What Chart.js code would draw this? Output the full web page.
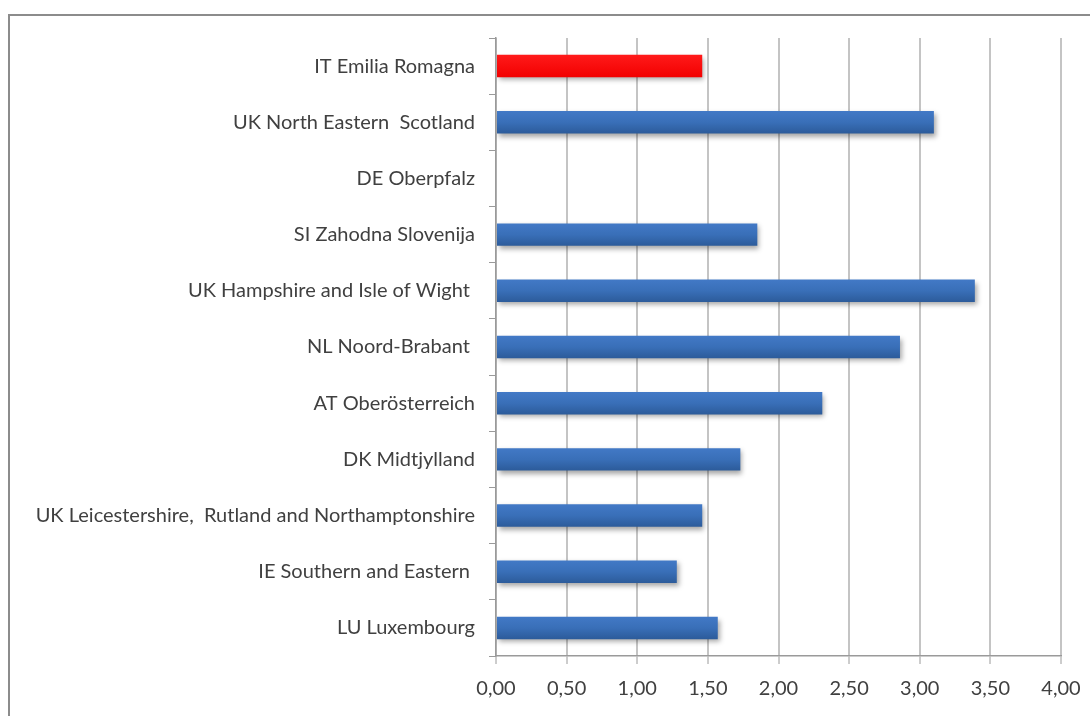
<!DOCTYPE html>
<html>
<head>
<meta charset="utf-8">
<script src="https://cdn.jsdelivr.net/npm/chart.js@4/dist/chart.umd.min.js"></script>
<style>
  html, body { margin: 0; padding: 0; background: #fff; overflow: hidden; }
  #wrap { position: relative; width: 1090px; height: 716px; }
  #frame { position: absolute; left: 8px; top: 14px; width: 1100px; height: 720px;
           border-left: 2px solid #8c8c8c; border-top: 2px solid #8c8c8c; box-sizing: border-box; }
  canvas { position: absolute; left: 0; top: 0; }
</style>
</head>
<body>
<div id="wrap">
  <div id="frame"></div>
  <canvas id="canvas" width="1090" height="716"></canvas>
</div>
<script>
var regions = [
  "IT Emilia Romagna",
  "UK North Eastern  Scotland",
  "DE Oberpfalz",
  "SI Zahodna Slovenija",
  "UK Hampshire and Isle of Wight ",
  "NL Noord-Brabant ",
  "AT Oberösterreich",
  "DK Midtjylland",
  "UK Leicestershire,  Rutland and Northamptonshire",
  "IE Southern and Eastern ",
  "LU Luxembourg"
];
var values = [1.46, 3.10, 0, 1.85, 3.39, 2.86, 2.31, 1.73, 1.46, 1.28, 1.57];
var xTicks = [0, 0.5, 1, 1.5, 2, 2.5, 3, 3.5, 4];

// shaded fill for each bar, lighter on top
function barFill(c) {
  var el = c.element;
  var red = c.dataIndex === 0;
  if (!el || el.y === undefined || isNaN(el.y)) return red ? '#ff0000' : '#3a6db3';
  var h = el.height || 22;
  var g = c.chart.ctx.createLinearGradient(0, el.y - h / 2, 0, el.y + h / 2);
  if (red) {
    g.addColorStop(0, '#ff1a1a');
    g.addColorStop(1, '#f20000');
  } else {
    g.addColorStop(0, '#4279c6');
    g.addColorStop(0.5, '#396fb8');
    g.addColorStop(1, '#2c5b9a');
  }
  return g;
}

var barShadow = {
  id: 'barShadow',
  beforeDatasetsDraw: function(chart) {
    var ctx = chart.ctx;
    ctx.save();
    ctx.shadowColor = 'rgba(0,0,0,0.35)';
    ctx.shadowBlur = 5;
    ctx.shadowOffsetX = 2;
    ctx.shadowOffsetY = 3;
  },
  afterDatasetsDraw: function(chart) {
    chart.ctx.restore();
  }
};

var labelFont = { family: 'Lato', size: 20 };

var config = {
  type: 'bar',
  data: {
    labels: regions,
    datasets: [{
      data: values,
      backgroundColor: barFill,
      borderWidth: 0,
      categoryPercentage: 1,
      barPercentage: 0.4
    }]
  },
  options: {
    indexAxis: 'y',
    responsive: false,
    animation: false,
    events: [],
    layout: { padding: { left: 0, right: 29, top: 38, bottom: 0 } },
    plugins: { legend: { display: false }, tooltip: { enabled: false } },
    scales: {
      x: {
        min: 0,
        max: 4,
        afterBuildTicks: function(s) { s.ticks = xTicks.map(function(v) { return { value: v }; }); },
        afterFit: function(s) { s.height = 60; s.paddingLeft = 0; s.paddingRight = 0; },
        grid: { color: '#c4c4c4', lineWidth: 2, tickLength: 8, tickColor: '#9a9a9a', tickWidth: 1 },
        border: { color: '#9a9a9a', width: 1.5 },
        ticks: {
          padding: 13,
          color: '#404040',
          font: labelFont,
          callback: function(v) { return v.toFixed(2).replace('.', ','); }
        }
      },
      y: {
        afterFit: function(s) { s.width = 496; },
        grid: { drawOnChartArea: false, tickLength: 7, tickColor: '#9a9a9a', tickWidth: 1 },
        border: { color: '#9a9a9a', width: 1.5 },
        ticks: {
          padding: 14,
          color: '#404040',
          font: labelFont
        }
      }
    }
  },
  plugins: [barShadow]
};

window.onload = function() {
  window.myBar = new Chart(document.getElementById('canvas'), config);
  window.myBar.update();
};
</script>
</body>
</html>
